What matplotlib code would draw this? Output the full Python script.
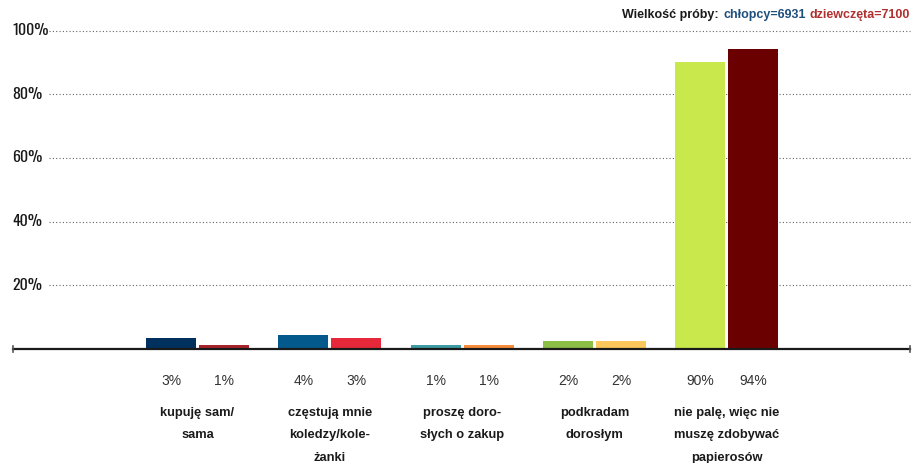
"""Bar chart: where do teens get cigarettes (boys vs girls)."""

import matplotlib
matplotlib.use("Agg")
import matplotlib.pyplot as plt
from matplotlib import font_manager

# --- data -------------------------------------------------------------
categories = [
    "kupuję sam/\nsama",
    "częstują mnie\nkoledzy/kole-\nżanki",
    "proszę doro-\nsłych o zakup",
    "podkradam\ndorosłym",
    "nie palę, więc nie\nmuszę zdobywać\npapierosów",
]
boys = [3.4, 4.3, 1.3, 2.4, 90.1]
girls = [1.4, 3.4, 1.3, 2.4, 94.2]
boys_labels = ["3%", "4%", "1%", "2%", "90%"]
girls_labels = ["1%", "3%", "1%", "2%", "94%"]
boys_colors = ["#00305e", "#03598c", "#3d9ba3", "#8bbf45", "#c9e84b"]
girls_colors = ["#a8222a", "#e6293a", "#f88c3c", "#fcc75b", "#6b0000"]
y_ticks = [20, 40, 60, 80, 100]

# --- style ------------------------------------------------------------
names = {f.name for f in font_manager.fontManager.ttflist}
narrow = "DejaVu Sans"
for cand in ["Oswald", "Roboto Condensed", "Sofia Sans Condensed",
             "Sofia Sans Extra Condensed", "Liberation Sans Narrow"]:
    if cand in names:
        narrow = cand
        break
plt.rcParams["font.family"] = ["Liberation Sans", "DejaVu Sans"]

W, H = 914, 463
fig = plt.figure(figsize=(W / 100, H / 100), dpi=100)
ax_left, ax_right = 13, 910
y_base, y_top = 349, 30.5
ax = fig.add_axes([ax_left / W, (H - y_base) / H,
                   (ax_right - ax_left) / W, (y_base - y_top) / H])

spacing = 132.3
xmin = (ax_left - 197.5) / spacing
xmax = (ax_right - 197.5) / spacing
ax.set_xlim(xmin, xmax)
ax.set_ylim(0, 100)
ax.axis("off")

# dotted gridlines + y labels
gx0 = (49 - ax_left) / (ax_right - ax_left)
ytrans = ax.get_yaxis_transform()
for v in y_ticks:
    ax.plot([gx0, 1], [v, v], transform=ytrans, color="#666666",
            lw=0.8, ls=(0, (1, 2)), clip_on=False)
    ax.text(-0.001, v, f"{v}%", transform=ytrans, ha="left", va="center",
            fontsize=11.5, family=narrow, fontstretch="condensed",
            color="#1a1a1a", clip_on=False)

# baseline with end ticks
ax.plot([0, 1], [0, 0], transform=ytrans, color="#1a1a1a", lw=1.6,
        clip_on=False, zorder=3)
for xe in (0, 1):
    ax.plot([xe, xe], [-0.8, 0.8], transform=ytrans, color="#555555",
            lw=1.2, clip_on=False, zorder=3)

bw = 50 / spacing
off = 26.5 / spacing
xs = list(range(len(categories)))
ax.bar([x - off for x in xs], boys, width=bw, color=boys_colors, zorder=2)
ax.bar([x + off for x in xs], girls, width=bw, color=girls_colors, zorder=2)

for x, bl, gl, cat in zip(xs, boys_labels, girls_labels, categories):
    ax.text(x - off, -10, bl, ha="center", va="center", fontsize=10,
            color="#333333", clip_on=False)
    ax.text(x + off, -10, gl, ha="center", va="center", fontsize=10,
            color="#333333", clip_on=False)
    ax.text(x, -18.2, cat, ha="center", va="top", fontsize=9.3,
            fontweight="bold", color="#1a1a1a", linespacing=2.15,
            clip_on=False)

# sample size note, top right
ty = 1 - 15 / H
t1 = fig.text(ax_right / W, ty, "dziewczęta=7100", ha="right",
              va="center", fontsize=9, fontweight="bold", color="#b0302f")
fig.canvas.draw()
bb = t1.get_window_extent()
t2 = fig.text((bb.x0 - 4) / W, ty, "chłopcy=6931", ha="right",
              va="center", fontsize=9, fontweight="bold", color="#1f4f7d")
fig.canvas.draw()
bb = t2.get_window_extent()
fig.text((bb.x0 - 4) / W, ty, "Wielkość próby:", ha="right",
         va="center", fontsize=9, fontweight="bold", color="#1a1a1a")

fig.savefig("out.png", dpi=100)
plt.close(fig)
